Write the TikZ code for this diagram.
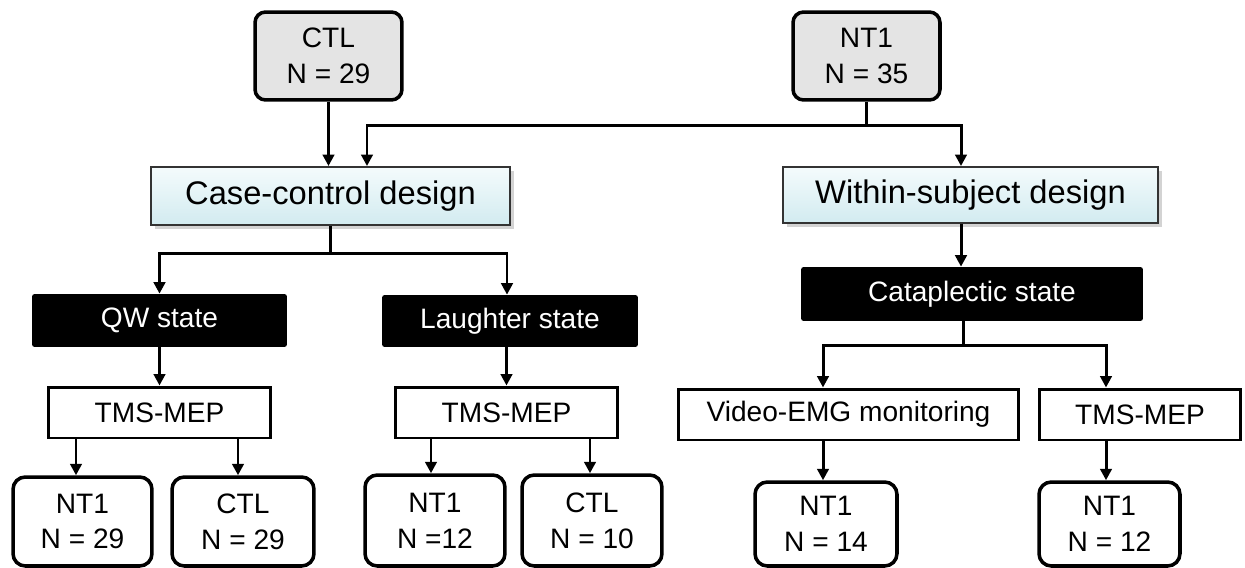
\documentclass[tikz,border=0pt]{standalone}
\usepackage{fontspec}
\setmainfont{Liberation Sans}
\usetikzlibrary{arrows.meta,shadows,calc}
\definecolor{topgray}{RGB}{228,228,228}
\definecolor{cyanlo}{RGB}{210,235,240}
\definecolor{cyanhi}{RGB}{244,251,252}
\tikzset{
  txt/.style={font=\fontsize{16}{20.4}\selectfont, align=center, inner sep=0pt},
  topbox/.style={txt, draw=black, line width=2pt, fill=topgray, rounded corners=6pt},
  design/.style={inner sep=0pt, font=\fontsize{18.6}{22}\selectfont, draw=black!80, line width=1.1pt,
    top color=cyanhi, bottom color=cyanlo,
    drop shadow={shadow xshift=2.5pt, shadow yshift=-2.5pt, opacity=0.35}},
  statebox/.style={txt, fill=black, text=white, rounded corners=1.5pt},
  method/.style={txt, draw=black, line width=1.7pt, fill=white},
  result/.style={txt, draw=black, line width=2pt, fill=white, rounded corners=7pt},
  conn/.style={line width=1.7pt},
  arr/.style={conn, -{Triangle[length=6.5pt,width=6.5pt]}},
}
\begin{document}
\begin{tikzpicture}[x=0.02cm,y=-0.02cm]
\useasboundingbox (0,0) rectangle (1245,568);
% top
\node[topbox, minimum width=2.94cm, minimum height=1.76cm] (ctl) at (328.5,56) {CTL\\N = 29};
\node[topbox, minimum width=2.94cm, minimum height=1.76cm] (nt1) at (866.5,56) {NT1\\N = 35};
% designs
\node[design, minimum width=7.18cm, minimum height=1.16cm] (cc) at (330.5,196) {Case-control design};
\node[design, minimum width=7.5cm, minimum height=1.12cm] (ws) at (970.5,195) {Within-subject design};
% states
\node[statebox, minimum width=5.1cm, minimum height=1.06cm] (qw) at (159.5,320.5) {QW state};
\node[statebox, minimum width=5.12cm, minimum height=1.04cm] (la) at (510,321) {Laughter state};
\node[statebox, minimum width=6.84cm, minimum height=1.08cm] (cat) at (972,294) {Cataplectic state};
% methods
\node[method, minimum width=4.46cm, minimum height=1.02cm] (tms1) at (159.5,412.5) {TMS-MEP};
\node[method, minimum width=4.46cm, minimum height=1.02cm] (tms2) at (506.5,412.5) {TMS-MEP};
\node[method, minimum width=6.82cm, minimum height=1.02cm] (vid) at (848.5,414.5) {Video-EMG monitoring};
\node[method, minimum width=4.04cm, minimum height=1.02cm] (tms3) at (1140,414.5) {TMS-MEP};
% results
\node[result, minimum width=2.78cm, minimum height=1.78cm] (b1) at (82.5,521.5) {NT1\\N = 29};
\node[result, minimum width=2.84cm, minimum height=1.78cm] (b2) at (243,521.5) {CTL\\N = 29};
\node[result, minimum width=2.8cm, minimum height=1.82cm] (b3) at (435,520.5) {NT1\\N =12};
\node[result, minimum width=2.8cm, minimum height=1.82cm] (b4) at (592,520.5) {CTL\\N = 10};
\node[result, minimum width=2.84cm, minimum height=1.68cm] (b5) at (826,524) {NT1\\N = 14};
\node[result, minimum width=2.82cm, minimum height=1.68cm] (b6) at (1109.5,524) {NT1\\N = 12};
% connectors top
\draw[arr] (ctl.south) -- (ctl.south |- cc.north);
\coordinate (j1) at ($(nt1.south)+(0,24)$);
\draw[conn] (nt1.south) -- (j1);
\draw[arr] (j1) -| ([xshift=0.73cm]cc.north);
\draw[arr] (j1) -| ([xshift=-0.19cm]ws.north);
% case-control branch
\coordinate (j2) at ($(cc.south)+(0,28)$);
\draw[conn] (cc.south) -- (j2);
\draw[arr] (j2) -| (qw.north);
\draw[arr] (j2) -| ([xshift=-0.06cm]la.north);
\draw[arr] (qw.south) -- (tms1.north);
\draw[arr] (la.south -| tms2.north) -- (tms2.north);
\draw[arr] ([xshift=-0.13cm]b1.north |- tms1.south) -- ([xshift=-0.13cm]b1.north);
\draw[arr] ([xshift=-0.1cm]b2.north |- tms1.south) -- ([xshift=-0.1cm]b2.north);
\draw[arr] ([xshift=-0.08cm]b3.north |- tms2.south) -- ([xshift=-0.08cm]b3.north);
\draw[arr] ([xshift=-0.04cm]b4.north |- tms2.south) -- ([xshift=-0.04cm]b4.north);
% within-subject branch
\draw[arr] ([xshift=-0.19cm]ws.south) -- ([xshift=-0.19cm]ws.south |- cat.north);
\coordinate (j4) at ([xshift=-0.18cm]cat.south);
\coordinate (j5) at ($(j4)+(0,24)$);
\draw[conn] (j4) -- (j5);
\draw[arr] (j5) -| ([xshift=-0.51cm]vid.north);
\draw[arr] (j5) -| ([xshift=-0.68cm]tms3.north);
\draw[arr] ([xshift=-0.51cm]vid.south) -- ([xshift=-0.51cm]vid.south |- b5.north);
\draw[arr] ([xshift=-0.68cm]tms3.south) -- ([xshift=-0.68cm]tms3.south |- b6.north);
\end{tikzpicture}
\end{document}
